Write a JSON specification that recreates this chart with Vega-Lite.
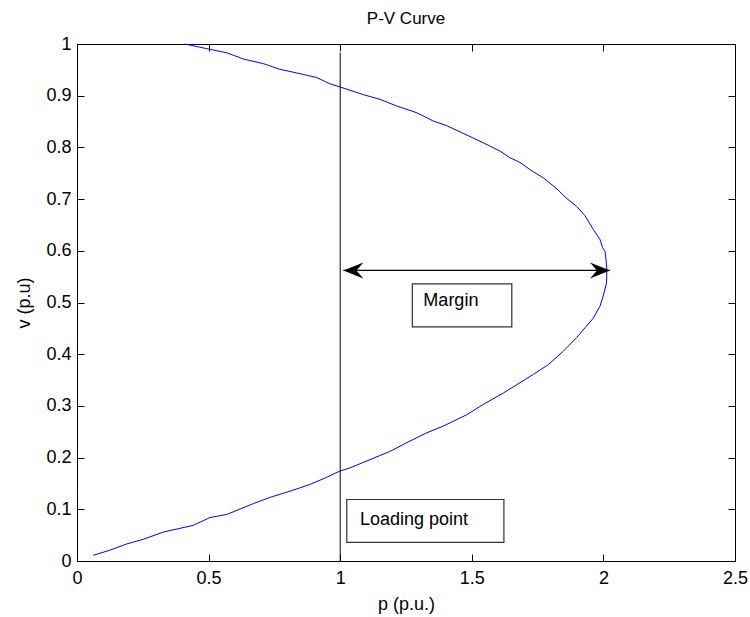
{
  "$schema": "https://vega.github.io/schema/vega-lite/v6.json",
  "autosize": "none",
  "width": 658,
  "height": 517,
  "padding": {"left": 77, "top": 44, "right": 15, "bottom": 56},
  "background": "white",
  "title": {"text": "P-V Curve", "fontSize": 17, "fontWeight": "normal", "font": "Liberation Sans", "color": "black", "offset": 7},
  "config": {
    "font": "Liberation Sans",
    "view": {"stroke": "black", "strokeWidth": 1},
    "axis": {
      "grid": false,
      "domainColor": "black",
      "tickColor": "black",
      "tickSize": -7,
      "labelColor": "black",
      "labelFontSize": 18,
      "labelFont": "Liberation Sans",
      "labelFlush": false,
      "titleFont": "Liberation Sans",
      "titleFontSize": 18,
      "titleFontWeight": "normal",
      "titleColor": "black"
    }
  },
  "datasets": {
    "curve": [
      {"i": 1, "p": 0.41, "v": 1.0},
      {"i": 2, "p": 0.493, "v": 0.991},
      {"i": 3, "p": 0.569, "v": 0.983},
      {"i": 4, "p": 0.632, "v": 0.971},
      {"i": 5, "p": 0.708, "v": 0.962},
      {"i": 6, "p": 0.771, "v": 0.951},
      {"i": 7, "p": 0.835, "v": 0.944},
      {"i": 8, "p": 0.911, "v": 0.935},
      {"i": 9, "p": 0.961, "v": 0.923},
      {"i": 10, "p": 0.999, "v": 0.917},
      {"i": 11, "p": 1.088, "v": 0.902},
      {"i": 12, "p": 1.151, "v": 0.893},
      {"i": 13, "p": 1.215, "v": 0.88},
      {"i": 14, "p": 1.291, "v": 0.867},
      {"i": 15, "p": 1.354, "v": 0.851},
      {"i": 16, "p": 1.405, "v": 0.842},
      {"i": 17, "p": 1.468, "v": 0.827},
      {"i": 18, "p": 1.531, "v": 0.812},
      {"i": 19, "p": 1.607, "v": 0.793},
      {"i": 20, "p": 1.645, "v": 0.78},
      {"i": 21, "p": 1.683, "v": 0.771},
      {"i": 22, "p": 1.721, "v": 0.757},
      {"i": 23, "p": 1.772, "v": 0.741},
      {"i": 24, "p": 1.823, "v": 0.72},
      {"i": 25, "p": 1.859, "v": 0.702},
      {"i": 26, "p": 1.898, "v": 0.686},
      {"i": 27, "p": 1.93, "v": 0.668},
      {"i": 28, "p": 1.962, "v": 0.641},
      {"i": 29, "p": 1.987, "v": 0.622},
      {"i": 30, "p": 1.997, "v": 0.606},
      {"i": 31, "p": 2.006, "v": 0.599},
      {"i": 32, "p": 2.01, "v": 0.583},
      {"i": 33, "p": 2.013, "v": 0.564},
      {"i": 34, "p": 2.012, "v": 0.538},
      {"i": 35, "p": 1.999, "v": 0.512},
      {"i": 36, "p": 1.987, "v": 0.493},
      {"i": 37, "p": 1.962, "v": 0.47},
      {"i": 38, "p": 1.93, "v": 0.451},
      {"i": 39, "p": 1.898, "v": 0.432},
      {"i": 40, "p": 1.848, "v": 0.406},
      {"i": 41, "p": 1.791, "v": 0.38},
      {"i": 42, "p": 1.734, "v": 0.361},
      {"i": 43, "p": 1.671, "v": 0.341},
      {"i": 44, "p": 1.62, "v": 0.325},
      {"i": 45, "p": 1.544, "v": 0.303},
      {"i": 46, "p": 1.481, "v": 0.283},
      {"i": 47, "p": 1.392, "v": 0.261},
      {"i": 48, "p": 1.329, "v": 0.248},
      {"i": 49, "p": 1.265, "v": 0.232},
      {"i": 50, "p": 1.189, "v": 0.212},
      {"i": 51, "p": 1.113, "v": 0.196},
      {"i": 52, "p": 1.037, "v": 0.18},
      {"i": 53, "p": 0.999, "v": 0.174},
      {"i": 54, "p": 0.949, "v": 0.162},
      {"i": 55, "p": 0.885, "v": 0.148},
      {"i": 56, "p": 0.809, "v": 0.135},
      {"i": 57, "p": 0.733, "v": 0.123},
      {"i": 58, "p": 0.67, "v": 0.111},
      {"i": 59, "p": 0.569, "v": 0.09},
      {"i": 60, "p": 0.505, "v": 0.084},
      {"i": 61, "p": 0.442, "v": 0.069},
      {"i": 62, "p": 0.328, "v": 0.056},
      {"i": 63, "p": 0.252, "v": 0.042},
      {"i": 64, "p": 0.189, "v": 0.033},
      {"i": 65, "p": 0.125, "v": 0.021},
      {"i": 66, "p": 0.062, "v": 0.011}
    ],
    "vline": [{"p": 1, "v0": 0, "v1": 0.983}],
    "arrow": [{"p1": 1.012, "p2": 2.025, "v": 0.562}],
    "heads": [
      {"p": 1.012, "v": 0.562, "dir": "left"},
      {"p": 2.025, "v": 0.562, "dir": "right"}
    ],
    "boxes": [
      {"p1": 1.274, "p2": 1.652, "v1": 0.536, "v2": 0.453, "tp": 1.316, "tv": 0.502, "label": "Margin"},
      {"p1": 1.025, "p2": 1.622, "v1": 0.119, "v2": 0.036, "tp": 1.075, "tv": 0.08, "label": "Loading point"}
    ]
  },
  "resolve": {"axis": {"x": "independent", "y": "independent"}},
  "layer": [
    {
      "data": {"name": "curve"},
      "mark": {"type": "line", "color": "#0000ff", "strokeWidth": 1},
      "encoding": {
        "x": {"field": "p", "type": "quantitative", "scale": {"domain": [0, 2.5], "nice": false, "zero": false},
              "axis": {"orient": "bottom", "values": [0, 0.5, 1, 1.5, 2, 2.5], "format": "~g", "title": "p (p.u.)", "labelPadding": 15, "titlePadding": 8}},
        "y": {"field": "v", "type": "quantitative", "scale": {"domain": [0, 1], "nice": false, "zero": false},
              "axis": {"orient": "left", "values": [0, 0.1, 0.2, 0.3, 0.4, 0.5, 0.6, 0.7, 0.8, 0.9, 1], "format": "~g", "title": "v (p.u)", "labelPadding": 13, "titlePadding": 12}},
        "order": {"field": "i", "type": "quantitative"}
      }
    },
    {
      "data": {"name": "vline"},
      "mark": {"type": "rule", "color": "black", "strokeWidth": 1},
      "encoding": {
        "x": {"field": "p", "type": "quantitative",
              "axis": {"orient": "top", "values": [0, 0.5, 1, 1.5, 2, 2.5], "labels": false, "title": null}},
        "y": {"field": "v0", "type": "quantitative",
              "axis": {"orient": "right", "values": [0, 0.1, 0.2, 0.3, 0.4, 0.5, 0.6, 0.7, 0.8, 0.9, 1], "labels": false, "title": null}},
        "y2": {"field": "v1"}
      }
    },
    {
      "data": {"name": "arrow"},
      "mark": {"type": "rule", "color": "black", "strokeWidth": 1.3},
      "encoding": {
        "x": {"field": "p1", "type": "quantitative", "axis": null},
        "x2": {"field": "p2"},
        "y": {"field": "v", "type": "quantitative", "axis": null}
      }
    },
    {
      "data": {"name": "heads"},
      "mark": {"type": "point", "filled": true, "color": "black", "opacity": 1, "size": 400, "strokeWidth": 0},
      "encoding": {
        "x": {"field": "p", "type": "quantitative", "axis": null},
        "y": {"field": "v", "type": "quantitative", "axis": null},
        "shape": {"field": "dir", "type": "nominal", "legend": null,
                  "scale": {"domain": ["left", "right"], "range": ["M0,0L2,-0.8L1.3,0L2,0.8Z", "M0,0L-2,-0.8L-1.3,0L-2,0.8Z"]}}
      }
    },
    {
      "data": {"name": "boxes"},
      "mark": {"type": "rect", "fill": "white", "stroke": "#333333", "strokeWidth": 1.2},
      "encoding": {
        "x": {"field": "p1", "type": "quantitative", "axis": null},
        "x2": {"field": "p2"},
        "y": {"field": "v1", "type": "quantitative", "axis": null},
        "y2": {"field": "v2"}
      }
    },
    {
      "data": {"name": "boxes"},
      "mark": {"type": "text", "align": "left", "baseline": "middle", "fontSize": 18, "font": "Liberation Sans", "color": "black"},
      "encoding": {
        "x": {"field": "tp", "type": "quantitative", "axis": null},
        "y": {"field": "tv", "type": "quantitative", "axis": null},
        "text": {"field": "label"}
      }
    }
  ]
}
